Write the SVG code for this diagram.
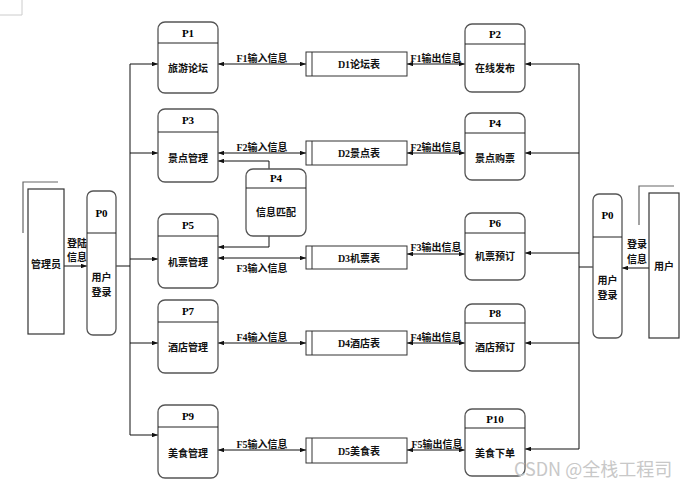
<svg xmlns="http://www.w3.org/2000/svg" width="698" height="489" viewBox="0 0 698 489">
<defs>
<style>
.proc{fill:#fff;stroke:#555;stroke-width:1.3}
.hdr{stroke:#222;stroke-width:1}
.store{fill:#fff;stroke:#333;stroke-width:1}
.ent{fill:#fff;stroke:#333;stroke-width:1.2}
.shadow{fill:none;stroke:#666;stroke-width:1.2}
.conn{fill:none;stroke:#111;stroke-width:1}
.t{font-family:"Liberation Serif","Noto Sans CJK SC",serif;font-size:10px;font-weight:bold;text-anchor:middle;dominant-baseline:central;fill:#111}
.pl{font-family:"Liberation Serif","Noto Sans CJK SC",serif;font-size:11px;font-weight:bold;text-anchor:middle;dominant-baseline:central;fill:#000}
.wm{font-family:"Noto Sans CJK SC","Liberation Sans",sans-serif;font-size:18px;fill:#c8c8c8}
</style>
<marker id="ah" viewBox="0 0 8 6" refX="8" refY="3" markerWidth="6" markerHeight="4.5" markerUnits="userSpaceOnUse" orient="auto-start-reverse">
<path d="M0,0 L8,3 L0,6 z" fill="#111"/>
</marker>
</defs>
<rect width="698" height="489" fill="#fff"/>
<path d="M22,0 V15 H0" fill="none" stroke="#ccc" stroke-width="1"/>

<g id="connectors">
<path class="conn" d="M130,64 V435"/>
<path class="conn" d="M116,266 H130"/>
<path class="conn" d="M130,64 H158" marker-end="url(#ah)"/>
<path class="conn" d="M130,153 H158" marker-end="url(#ah)"/>
<path class="conn" d="M130,259 H158" marker-end="url(#ah)"/>
<path class="conn" d="M130,343 H158" marker-end="url(#ah)"/>
<path class="conn" d="M130,435 H158" marker-end="url(#ah)"/>
<path class="conn" d="M579,64 V449"/>
<path class="conn" d="M593,267 H579"/>
<path class="conn" d="M579,64 H525" marker-end="url(#ah)"/>
<path class="conn" d="M579,153 H525" marker-end="url(#ah)"/>
<path class="conn" d="M579,253 H525" marker-end="url(#ah)"/>
<path class="conn" d="M579,343 H525" marker-end="url(#ah)"/>
<path class="conn" d="M579,449 H525" marker-end="url(#ah)"/>
<path class="conn" d="M64,266 H87" marker-end="url(#ah)"/>
<path class="conn" d="M649,268 H622" marker-end="url(#ah)"/>
<path class="conn" d="M218,64 H306" marker-start="url(#ah)" marker-end="url(#ah)"/>
<path class="conn" d="M407,64 H465" marker-start="url(#ah)" marker-end="url(#ah)"/>
<path class="conn" d="M218,153 H306" marker-start="url(#ah)" marker-end="url(#ah)"/>
<path class="conn" d="M407,153 H465" marker-start="url(#ah)" marker-end="url(#ah)"/>
<path class="conn" d="M218,258 H306" marker-start="url(#ah)" marker-end="url(#ah)"/>
<path class="conn" d="M407,254 H465" marker-start="url(#ah)" marker-end="url(#ah)"/>
<path class="conn" d="M218,343 H306" marker-start="url(#ah)" marker-end="url(#ah)"/>
<path class="conn" d="M407,343 H465" marker-start="url(#ah)" marker-end="url(#ah)"/>
<path class="conn" d="M218,450 H306" marker-start="url(#ah)" marker-end="url(#ah)"/>
<path class="conn" d="M407,450 H465" marker-start="url(#ah)" marker-end="url(#ah)"/>
<path class="conn" d="M269,169 V161 H218" marker-end="url(#ah)"/>
<path class="conn" d="M269,236 V247 H218" marker-end="url(#ah)"/>
<text class="t" x="262" y="58">F1输入信息</text>
<text class="t" x="436" y="58">F1输出信息</text>
<text class="t" x="262" y="147">F2输入信息</text>
<text class="t" x="436" y="147">F2输出信息</text>
<text class="t" x="262" y="268">F3输入信息</text>
<text class="t" x="436" y="247">F3输出信息</text>
<text class="t" x="262" y="337">F4输入信息</text>
<text class="t" x="436" y="337">F4输出信息</text>
<text class="t" x="262" y="444">F5输入信息</text>
<text class="t" x="437" y="444">F5输出信息</text>
<text class="t" x="77" y="243">登陆</text>
<text class="t" x="77" y="257">信息</text>
<text class="t" x="637" y="244">登录</text>
<text class="t" x="637" y="259">信息</text>
</g>

<g id="admin">
<path class="shadow" d="M23,233 V182 H58"/>
<rect class="ent" x="28" y="189" width="36" height="145"/>
<text class="t" x="46" y="264">管理员</text>
</g>
<g id="user">
<path class="shadow" d="M639,225 V186 H674"/>
<rect class="ent" x="649" y="193" width="30" height="145"/>
<text class="t" x="664" y="266">用户</text>
</g>

<g id="P0-left">
<rect class="proc" x="87" y="191" width="29" height="144" rx="6"/>
<line class="hdr" x1="87" y1="233" x2="116" y2="233" stroke-width="1.5"/>
<text class="pl" x="101.5" y="213">P0</text>
<text class="t" x="101.5" y="277">用户</text>
<text class="t" x="101.5" y="292">登录</text>
</g>
<g id="P0-right">
<rect class="proc" x="593" y="194" width="29" height="144" rx="6"/>
<line class="hdr" x1="593" y1="237" x2="622" y2="237" stroke-width="1.5"/>
<text class="pl" x="607.5" y="215">P0</text>
<text class="t" x="607.5" y="280">用户</text>
<text class="t" x="607.5" y="295">登录</text>
</g>

<g id="P1">
<rect class="proc" x="158" y="22" width="60" height="71" rx="7"/>
<line class="hdr" x1="158" y1="43" x2="218" y2="43"/>
<text class="pl" x="188" y="33">P1</text>
<text class="t" x="188" y="68">旅游论坛</text>
</g>
<g id="P3">
<rect class="proc" x="158" y="109" width="60" height="73" rx="7"/>
<line class="hdr" x1="158" y1="132" x2="218" y2="132"/>
<text class="pl" x="188" y="120">P3</text>
<text class="t" x="188" y="158">景点管理</text>
</g>
<g id="P5">
<rect class="proc" x="158" y="214" width="60" height="74" rx="7"/>
<line class="hdr" x1="158" y1="236" x2="218" y2="236"/>
<text class="pl" x="188" y="225">P5</text>
<text class="t" x="188" y="262">机票管理</text>
</g>
<g id="P7">
<rect class="proc" x="158" y="300" width="60" height="73" rx="7"/>
<line class="hdr" x1="158" y1="322" x2="218" y2="322"/>
<text class="pl" x="188" y="311">P7</text>
<text class="t" x="188" y="347">酒店管理</text>
</g>
<g id="P9">
<rect class="proc" x="158" y="405" width="60" height="73" rx="7"/>
<line class="hdr" x1="158" y1="427" x2="218" y2="427"/>
<text class="pl" x="188" y="416">P9</text>
<text class="t" x="188" y="453">美食管理</text>
</g>

<g id="P4-match">
<rect class="proc" x="246" y="169" width="60" height="67" rx="7"/>
<line class="hdr" x1="246" y1="188" x2="306" y2="188"/>
<text class="pl" x="276" y="178">P4</text>
<text class="t" x="276" y="212">信息匹配</text>
</g>

<g id="P2">
<rect class="proc" x="465" y="24" width="60" height="68" rx="7"/>
<line class="hdr" x1="465" y1="44" x2="525" y2="44"/>
<text class="pl" x="495" y="34">P2</text>
<text class="t" x="495" y="68">在线发布</text>
</g>
<g id="P4">
<rect class="proc" x="465" y="113" width="60" height="67" rx="7"/>
<line class="hdr" x1="465" y1="133" x2="525" y2="133"/>
<text class="pl" x="495" y="123">P4</text>
<text class="t" x="495" y="158">景点购票</text>
</g>
<g id="P6">
<rect class="proc" x="465" y="213" width="60" height="67" rx="7"/>
<line class="hdr" x1="465" y1="233" x2="525" y2="233"/>
<text class="pl" x="495" y="223">P6</text>
<text class="t" x="495" y="256">机票预订</text>
</g>
<g id="P8">
<rect class="proc" x="465" y="304" width="60" height="67" rx="7"/>
<line class="hdr" x1="465" y1="323" x2="525" y2="323"/>
<text class="pl" x="495" y="313">P8</text>
<text class="t" x="495" y="347">酒店预订</text>
</g>
<g id="P10">
<rect class="proc" x="465" y="409" width="60" height="67" rx="7"/>
<line class="hdr" x1="465" y1="428" x2="525" y2="428"/>
<text class="pl" x="495" y="419">P10</text>
<text class="t" x="495" y="453">美食下单</text>
</g>

<g id="D1">
<rect class="store" x="306" y="52" width="101" height="24"/>
<line class="store" x1="312" y1="52" x2="312" y2="76"/>
<text class="t" x="359" y="64">D1论坛表</text>
</g>
<g id="D2">
<rect class="store" x="306" y="141" width="101" height="24"/>
<line class="store" x1="312" y1="141" x2="312" y2="165"/>
<text class="t" x="359" y="153">D2景点表</text>
</g>
<g id="D3">
<rect class="store" x="306" y="246" width="101" height="23"/>
<line class="store" x1="312" y1="246" x2="312" y2="269"/>
<text class="t" x="359" y="258">D3机票表</text>
</g>
<g id="D4">
<rect class="store" x="306" y="331" width="101" height="24"/>
<line class="store" x1="312" y1="331" x2="312" y2="355"/>
<text class="t" x="359" y="343">D4酒店表</text>
</g>
<g id="D5">
<rect class="store" x="306" y="438" width="101" height="25"/>
<line class="store" x1="312" y1="438" x2="312" y2="463"/>
<text class="t" x="359" y="451">D5美食表</text>
</g>

<text class="wm" x="514" y="476">CSDN @全栈工程司</text>
</svg>
